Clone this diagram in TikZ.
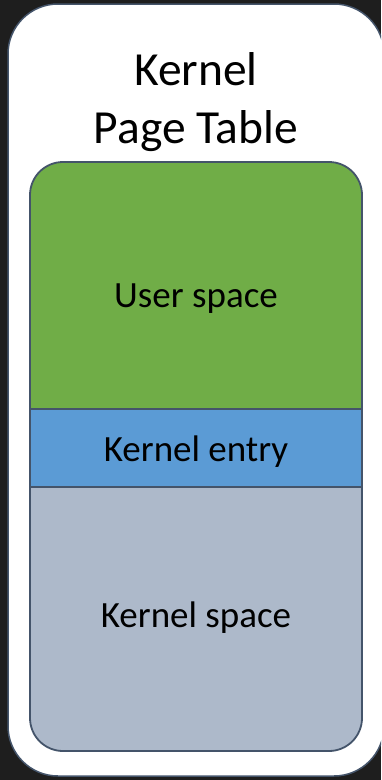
\documentclass[tikz,border=0pt]{standalone}
\usepackage{fontspec}
\setmainfont{Carlito}
\definecolor{bgdark}{HTML}{1E1E1E}
\definecolor{edge}{HTML}{44546A}
\definecolor{usergreen}{HTML}{70AD47}
\definecolor{entryblue}{HTML}{5B9BD5}
\definecolor{kgray}{HTML}{ADB9CA}
\begin{document}
\begin{tikzpicture}[x=1pt,y=-1pt,
  lbl/.style={anchor=base,inner sep=0pt,font=\fontsize{37}{44}\selectfont,text=black},
  ttl/.style={anchor=base,inner sep=0pt,font=\fontsize{47.5}{57}\selectfont,text=black}]
\useasboundingbox (0,0) rectangle (381,780);
\clip (0,0) rectangle (381,780);
\fill[bgdark] (0,0) rectangle (381,780);
% outer table
\draw[edge,line width=1.5pt,fill=white,rounded corners=50pt] (8,4) rectangle (384,776);
% inner stack
\begin{scope}
  \clip[rounded corners=33pt] (30,162) rectangle (362,751);
  \fill[usergreen] (30,162) rectangle (362,409);
  \fill[entryblue] (30,409) rectangle (362,487);
  \fill[kgray] (30,487) rectangle (362,751);
\end{scope}
\coordinate (d1l) at (30,409); \coordinate (d1r) at (362,409);
\coordinate (d2l) at (30,487); \coordinate (d2r) at (362,487);
\draw[edge,line width=1.8pt] (d1l) -- (d1r);
\draw[edge,line width=1.8pt] (d2l) -- (d2r);
\draw[edge,line width=1.8pt,rounded corners=33pt] (30,162) rectangle (362,751);
% texts
\node[ttl] (t1) at (196,85) {Kernel};
\node[ttl] (t2) at (196,143) {Page Table};
\node[lbl] (us) at (196,307) {User space};
\node[lbl] (ke) at (196,461) {Kernel entry};
\node[lbl] (ks) at (196,627) {Kernel space};
\end{tikzpicture}
\end{document}
